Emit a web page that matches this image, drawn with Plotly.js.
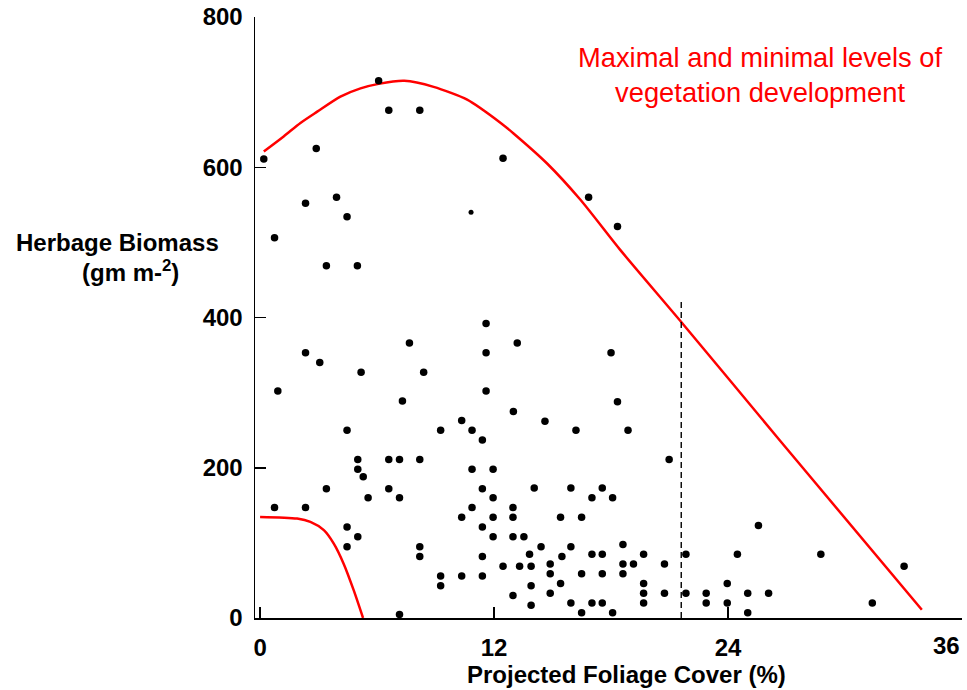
<!DOCTYPE html>
<html>
<head>
<meta charset="utf-8">
<script src="https://cdn.plot.ly/plotly-3.0.1.min.js"></script>
<style>
  html, body { margin: 0; padding: 0; background: #fff; }
  #chart { width: 967px; height: 690px; }
</style>
</head>
<body>
<div id="chart"></div>
<script>
// Projected foliage cover (%) and herbage biomass (g m-2), one entry per plot
const coverPct = [0.19,2.88,6.08,6.60,8.19,2.33,3.92,4.46,0.74,3.40,
  4.99,12.46,16.85,18.33,11.59,2.33,3.06,7.66,11.59,5.18,
  8.39,0.91,7.30,11.59,10.34,4.46,9.26,10.87,11.40,5.01,
  6.60,7.15,8.19,5.01,10.87,11.95,5.29,3.40,6.60,11.40,
  5.54,7.15,11.95,0.74,2.33,10.87,10.34,11.95,4.46,11.40,
  5.01,11.95,4.46,8.19,8.19,11.40,9.26,9.26,10.34,11.40,
  7.15,14.06,15.94,17.55,17.02,18.08,12.97,12.97,15.41,16.49,
  25.56,12.97,13.53,14.41,15.94,18.61,13.82,15.48,17.02,17.55,
  19.67,21.84,24.48,12.46,13.31,13.90,14.88,18.61,19.15,20.74,
  14.88,16.49,17.55,18.61,13.90,15.41,19.67,23.96,12.97,14.88,
  19.67,20.74,21.84,22.88,25.01,26.08,13.90,15.94,17.02,17.55,
  19.67,22.88,23.96,16.49,18.08,25.01,28.76,33.03,31.40,13.19,
  18.00,18.33,12.99,14.61,16.20,18.87,20.98];
const biomass = [611,625,715,676,676,552,560,534,506,469,
  469,612,560,521,392,353,340,366,353,327,
  327,302,289,302,263,250,250,250,237,211,
  211,211,211,198,198,198,188,172,172,172,
  160,160,160,147,147,147,134,134,121,121,
  108,108,95,95,82,82,56,43,56,56,
  4.5,173,173,173,160,160,147,134,134,134,
  123,108,108,95,95,98,85,82,85,85,
  85,85,85,69,69,69,72,72,72,72,
  59,59,59,59,43,46,46,46,30,33,
  33,33,33,33,33,33,17,20,20,20,
  20,20,20,7,7,7,85,69,20,366,
  353,288,275,262,250,250,211];

// One plot recorded with a smaller symbol
const smallCover = [10.82];
const smallBiomass = [540];

// Upper envelope: maximal level of vegetation development
const maxCover = [0.19,1.21,2.07,2.93,4.12,5.15,6.08,7.40,8.90,10.62,12.34,13.00,14.72,16.42,18.47,21.60,26.67,28.38,33.94];
const maxBiomass = [621,641,659,674,694,705,711,715,707,690,659,645,605,557,490,394,236,183,11];

// Lower envelope: minimal level of vegetation development
const minCover = [0.0,1.90,2.58,3.27,3.78,4.29,4.80,5.28];
const minBiomass = [134.6,132.4,128,117,99,72,37,0];

// Vertical reference line
const refCover = [21.6, 21.6];
const refBiomass = [0, 425.6];

const xTicks = [0, 12, 24];
const xEndTick = [36];
const yTicks = [0, 200, 400, 600, 800];

// plot area in page pixels, used to place free text
const plotL = 254.5, plotR = 962, plotT = 17.3, plotB = 617.7;
const pxX = x => (x - plotL) / (plotR - plotL);
const pxY = y => (plotB - y) / (plotB - plotT);

const FONT = 'Liberation Sans, Arial, Helvetica, sans-serif';
const RED = '#ff0000';
const boldFont = size => ({ family: FONT, size: size, weight: 'bold', color: '#000' });

const traces = [
  {
    x: maxCover, y: maxBiomass, type: 'scatter', mode: 'lines',
    line: { color: RED, width: 2.5, shape: 'spline', smoothing: 0.7 },
    hoverinfo: 'skip', cliponaxis: false
  },
  {
    x: minCover, y: minBiomass, type: 'scatter', mode: 'lines',
    line: { color: RED, width: 2.5, shape: 'spline', smoothing: 0.8 },
    hoverinfo: 'skip', cliponaxis: false
  },
  {
    x: refCover, y: refBiomass, type: 'scatter', mode: 'lines',
    line: { color: '#000', width: 1.4, dash: '6px,4px' },
    hoverinfo: 'skip'
  },
  {
    x: coverPct, y: biomass, type: 'scatter', mode: 'markers',
    marker: { color: '#000', size: 7.5 }, cliponaxis: false
  },
  {
    x: smallCover, y: smallBiomass, type: 'scatter', mode: 'markers',
    marker: { color: '#000', size: 5 }, cliponaxis: false
  }
];

const layout = {
  width: 967, height: 690,
  margin: { l: plotL, r: 967 - plotR, t: plotT, b: 690 - plotB },
  paper_bgcolor: '#fff', plot_bgcolor: '#fff',
  showlegend: false,
  font: { family: FONT, color: '#000' },
  xaxis: {
    range: [-0.261, 36], showgrid: false, zeroline: false,
    showline: true, linecolor: '#000', linewidth: 1.5,
    ticks: 'inside', ticklen: 11, tickwidth: 1.5, tickcolor: '#000',
    tickvals: xTicks,
    tickfont: boldFont(24),
    ticklabelstandoff: 8,
    minor: { tickvals: xEndTick, ticks: 'inside', ticklen: 11, tickwidth: 1.5, tickcolor: '#000', showgrid: false },
    automargin: false
  },
  yaxis: {
    range: [0, 800], showgrid: false, zeroline: false,
    showline: true, linecolor: '#000', linewidth: 1.5,
    ticks: 'inside', ticklen: 11, tickwidth: 1.5, tickcolor: '#000',
    tickvals: yTicks,
    tickfont: boldFont(24),
    ticklabelstandoff: 6,
    automargin: false
  },
  annotations: [
    {
      // end-of-axis label, kept inside the page edge
      xref: 'x', yref: 'paper', x: 36, y: pxY(645),
      xanchor: 'right', yanchor: 'middle', showarrow: false,
      text: '36', font: boldFont(24)
    },
    {
      xref: 'paper', yref: 'paper', x: pxX(626), y: pxY(674),
      xanchor: 'center', yanchor: 'middle', showarrow: false,
      text: 'Projected Foliage Cover (%)', font: boldFont(24)
    },
    {
      xref: 'paper', yref: 'paper', x: pxX(116.5), y: pxY(243),
      xanchor: 'center', yanchor: 'middle', showarrow: false,
      text: 'Herbage Biomass', font: boldFont(24)
    },
    {
      xref: 'paper', yref: 'paper', x: pxX(130), y: pxY(271),
      xanchor: 'center', yanchor: 'middle', showarrow: false,
      text: '(gm m-<sup>2</sup>)', font: boldFont(24)
    },
    {
      xref: 'paper', yref: 'paper', x: pxX(760), y: pxY(75),
      xanchor: 'center', yanchor: 'middle', align: 'center', showarrow: false,
      text: 'Maximal and minimal levels of<br>vegetation development',
      font: { family: FONT, size: 27.3, color: RED }
    }
  ]
};

Plotly.newPlot('chart', traces, layout, { displayModeBar: false, staticPlot: true });
</script>
</body>
</html>
